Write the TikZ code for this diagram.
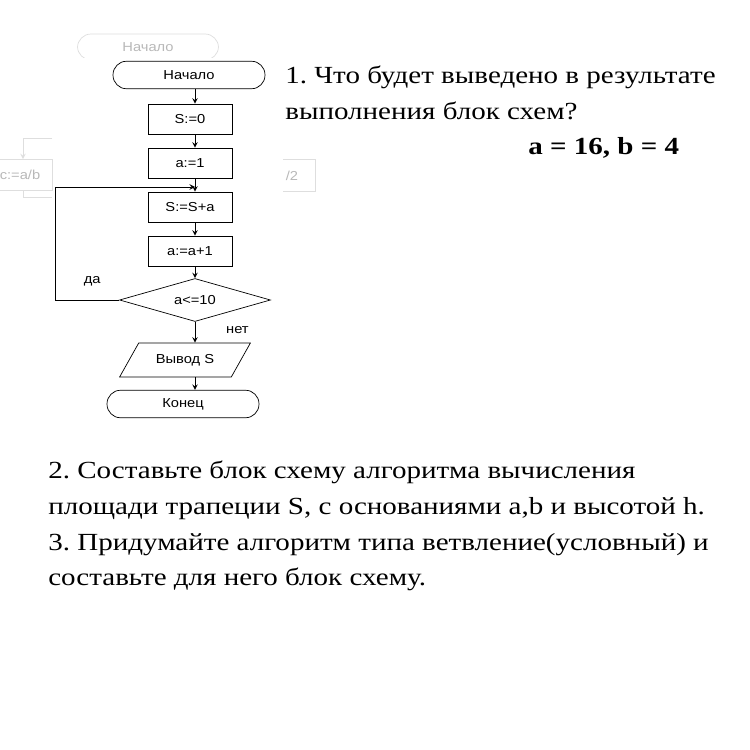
\documentclass[tikz,border=0pt]{standalone}
\usepackage{fontspec}
\setmainfont{Liberation Serif}[FakeStretch=1.18]
\setsansfont{Liberation Sans}[FakeStretch=1.13]
\usetikzlibrary{shapes.geometric}
\frenchspacing

\tikzset{
  blok/.style={draw, font=\sffamily\fontsize{7.4}{9}\selectfont, minimum width=1.68cm, minimum height=0.6cm, inner sep=1pt},
  term/.style={blok, rounded corners=0.27cm, minimum width=3.04cm, minimum height=0.55cm},
  usl/.style={blok, diamond, aspect=3.57, minimum width=3.02cm, minimum height=0.86cm, inner sep=0pt},
  vyvod/.style={blok, trapezium, trapezium left angle=50, trapezium right angle=130, trapezium stretches=true, minimum width=2.62cm, minimum height=0.68cm},
  metka/.style={font=\sffamily\fontsize{7.4}{9}\selectfont},
  ten/.style={draw=black!13, text=black!28},
  vopros/.style={anchor=base west, inner sep=0pt, font=\fontsize{14}{17}\selectfont}
}

\begin{document}
\begin{tikzpicture}[>=stealth, x=0.02cm, y=-0.02cm]
  \useasboundingbox (0,0) rectangle (750,750);

  % faded blocks left behind from the slide
  \begin{scope}
    \clip (0,0) rectangle (750,58);
    \node[term, ten, minimum width=2.82cm, minimum height=0.52cm] (gstart) at (148,47) {Начало};
  \end{scope}
  \node[blok, ten, minimum width=1.28cm, minimum height=0.62cm] (gc) at (20,175) {c:=a/b};
  \coordinate (gc1) at (52,138);
  \coordinate (gc2) at (23,138);
  \coordinate (gc3) at (23,197);
  \coordinate (gc4) at (52,197);
  \draw[ten, ->] (gc1) -- (gc2) -- (gc2 |- gc.north);
  \draw[ten] (gc2 |- gc.south) -- (gc3) -- (gc4);
  \node[metka, ten, draw=none] (gh) at (292,176) {/2};
  \draw[ten] (283,159) -| (315,191) -- (283,191);

  \node[term] (start) at (189,75) {Начало};
  \node[blok] (s0) at (190,119) {S:=0};
  \node[blok] (a1) at (190,163) {a:=1};
  \node[blok] (ssa) at (190,207) {S:=S+a};
  \node[blok] (aa1) at (190,251) {a:=a+1};
  \node[usl] (dec) at (195,300) {a<=10};
  \node[vyvod] (out) at (185,360) {Вывод S};
  \node[term] (fin) at (183,404) {Конец};

  \coordinate (join) at (195,187);
  \coordinate (loop) at (55,187);

  \draw[->] (start.south -| dec) -- (s0.north -| dec);
  \draw[->] (s0.south -| dec) -- (a1.north -| dec);
  \draw[->] (a1.south -| dec) -- (ssa.north -| dec);
  \draw[->] (ssa.south -| dec) -- (aa1.north -| dec);
  \draw[->] (aa1.south -| dec) -- (dec.north);
  \draw[->] (dec.west) -| node[metka, pos=0.21, above=0.16cm] {да} (loop) -- (join);
  \draw[->] (dec.south) -- node[metka, pos=0.4, right=0.5cm] {нет} (out.north -| dec);
  \draw[->] (out.south -| dec) -- (fin.north -| dec);

  \node[vopros] (q1a) at (285,84) {1. Что будет выведено в результате};
  \node[vopros] (q1b) at (285,119) {выполнения блок схем?};
  \node[vopros, font=\fontsize{14}{17}\selectfont\bfseries] (ab) at (528,154) {a = 16, b = 4};
  \node[vopros] (q2a) at (48,478) {2. Составьте блок схему алгоритма вычисления};
  \node[vopros] (q2b) at (48,514) {площади трапеции S, с основаниями a,b и высотой h.};
  \node[vopros] (q3a) at (48,550) {3. Придумайте алгоритм типа ветвление(условный) и};
  \node[vopros] (q3b) at (48,585) {составьте для него блок схему.};
\end{tikzpicture}
\end{document}
